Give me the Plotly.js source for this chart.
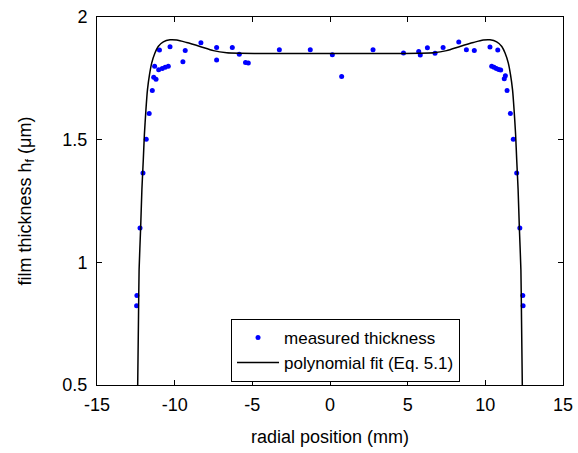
<!DOCTYPE html>
<html>
<head>
<meta charset="utf-8">
<script src="https://cdn.plot.ly/plotly-3.0.1.min.js"></script>
<style>html,body{margin:0;padding:0;background:#fff;}#chart{width:578px;height:453px;}</style>
</head>
<body>
<div id="chart"></div>
<script>
// measured thickness (mm, um)
var measX = [-12.45,-12.43,-12.23,-12.04,-11.83,-11.64,-11.44,-11.35,-11.20,-11.29,-11.03,-10.80,-10.61,-10.41,-10.98,-10.30,-9.47,-9.32,-8.31,-7.30,-7.30,-6.29,-5.84,-5.44,-5.26,-3.26,-1.27,0.15,0.75,2.77,4.73,5.71,5.81,6.27,6.76,7.28,8.29,8.78,9.29,10.30,10.80,10.41,10.56,10.71,10.86,10.99,11.29,11.22,11.40,11.61,11.80,12.02,12.22,12.41,12.43];
var measY = [0.823,0.865,1.140,1.364,1.502,1.607,1.700,1.754,1.746,1.799,1.785,1.790,1.795,1.799,1.865,1.879,1.818,1.863,1.895,1.876,1.825,1.876,1.848,1.815,1.812,1.867,1.867,1.846,1.757,1.867,1.853,1.859,1.845,1.875,1.852,1.876,1.898,1.867,1.863,1.878,1.865,1.799,1.795,1.790,1.786,1.784,1.761,1.748,1.700,1.607,1.502,1.364,1.140,0.865,0.823];
// polynomial fit (Eq. 5.1)
var fitX = [-12.38,-12.33,-12.29,-12.19,-12.11,-12.02,-11.95,-11.85,-11.75,-11.62,-11.48,-11.27,-11.06,-10.73,-10.30,-9.87,-9.23,-8.37,-7.51,-6.65,-5.80,-4.0,-2.0,0,2.0,4.0,5.80,6.65,7.51,8.37,9.23,9.87,10.30,10.73,11.06,11.27,11.48,11.62,11.75,11.85,11.95,12.02,12.11,12.19,12.29,12.33,12.38];
var fitY = [0.5,0.766,0.970,1.141,1.296,1.418,1.520,1.622,1.704,1.765,1.812,1.853,1.880,1.899,1.907,1.906,1.896,1.880,1.863,1.854,1.852,1.851,1.851,1.851,1.851,1.851,1.852,1.854,1.863,1.880,1.896,1.906,1.907,1.899,1.880,1.853,1.812,1.765,1.704,1.622,1.520,1.418,1.296,1.141,0.970,0.766,0.5];
var xTicks = [-15,-10,-5,0,5,10,15];
var yTicks = [0.5,1,1.5,2];

var font = {family: 'Liberation Sans, Arial, sans-serif', size: 18, color: '#000'};
var legendFont = {family: 'Liberation Sans, Arial, sans-serif', size: 17, color: '#000'};
var traces = [
  {x: measX, y: measY, mode: 'markers', type: 'scatter', name: 'measured thickness',
   marker: {color: '#0000ff', size: 5}},
  {x: fitX, y: fitY, mode: 'lines', type: 'scatter', name: 'polynomial fit (Eq. 5.1)',
   line: {color: '#000', width: 1.5, shape: 'spline', smoothing: 0.6}}
];
var axisCommon = {showline: true, linecolor: '#000', linewidth: 1, mirror: 'ticks', ticks: 'inside',
  ticklen: 5, tickcolor: '#000', showgrid: false, zeroline: false, tickfont: font};
var layout = {
  width: 578, height: 453,
  margin: {l: 97, r: 15, t: 17, b: 68},
  paper_bgcolor: '#fff', plot_bgcolor: '#fff',
  font: font,
  showlegend: true,
  legend: {x: 0.2876, y: 0.094, xanchor: 'left', yanchor: 'middle', bordercolor: '#000', borderwidth: 1,
           bgcolor: '#fff', font: legendFont, tracegroupgap: 0, itemwidth: 42},
  xaxis: Object.assign({}, axisCommon, {range: [-15, 15], tickvals: xTicks, ticktext: xTicks.map(String),
     ticklabelstandoff: 3,
     title: {text: 'radial position (mm)', font: font, standoff: 16}}),
  yaxis: Object.assign({}, axisCommon, {range: [0.5, 2], tickvals: yTicks, ticktext: yTicks.map(String),
     ticklabelstandoff: 5,
     title: {text: 'film thickness h<sub>f</sub> (μm)', font: font, standoff: 26}})
};
Plotly.newPlot('chart', traces, layout, {displayModeBar: false, staticPlot: true});
</script>
</body>
</html>
